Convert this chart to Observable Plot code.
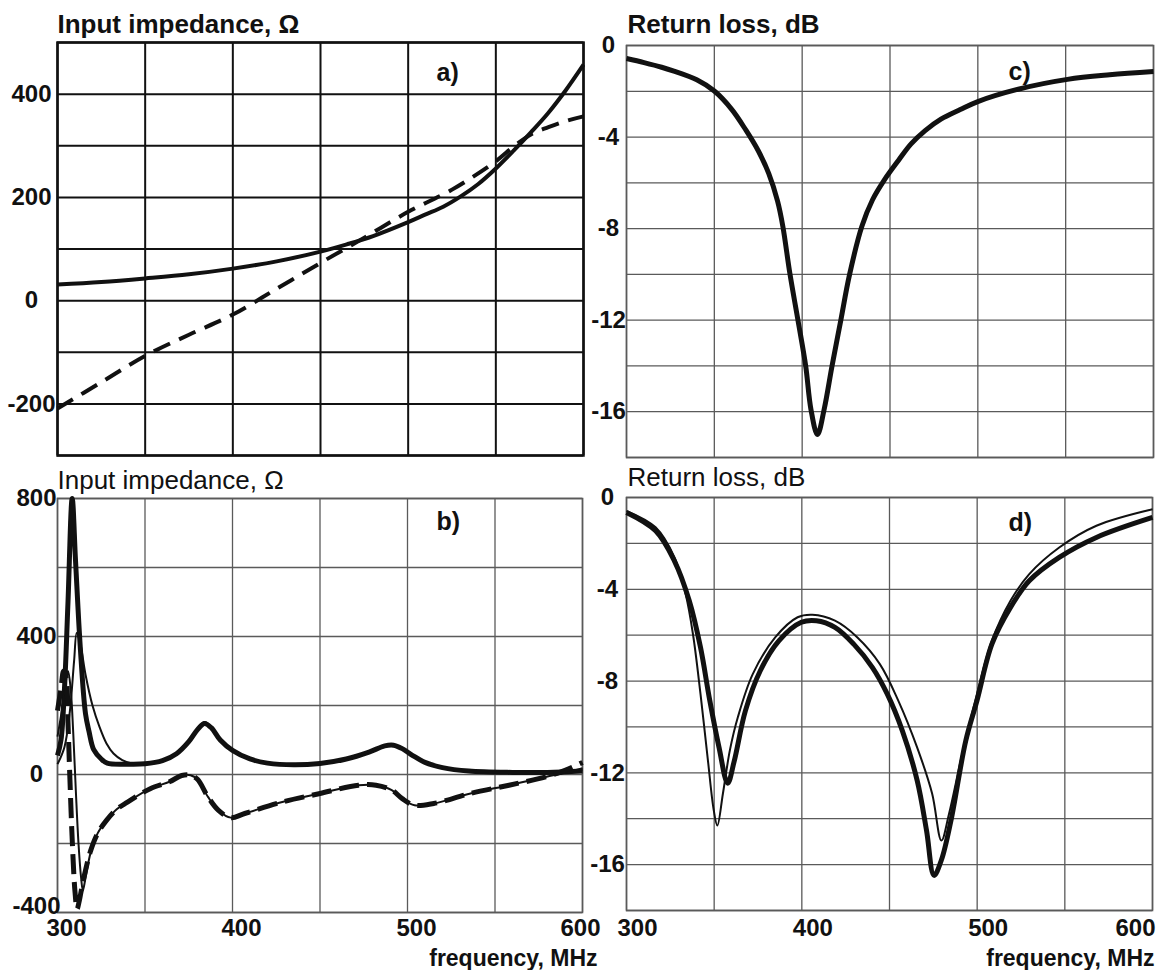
<!DOCTYPE html>
<html>
<head>
<meta charset="utf-8">
<script src="https://cdn.jsdelivr.net/npm/d3@7"></script>
<script src="https://cdn.jsdelivr.net/npm/@observablehq/plot@0.6"></script>
<style>
  html, body { margin: 0; padding: 0; background: #fff; }
  #chart { position: relative; width: 1165px; height: 970px; background: #fff; overflow: hidden; }
  #chart svg { position: absolute; background: transparent; overflow: visible; max-width: none; }
</style>
</head>
<body>
<div id="chart"></div>
<script>
// ---------- axes / ticks ----------
const freqGrid = [300, 350, 400, 450, 500, 550, 600];
const freqLabels = [300, 400, 500, 600];
const impAGrid = [-300, -200, -100, 0, 100, 200, 300, 400, 500];
const impALabels = [400, 200, 0, -200];
const impBGrid = [-400, -200, 0, 200, 400, 600, 800];
const impBLabels = [800, 400, 0];
const impBLabelsLow = [-400];
const rlGrid = [-18, -16, -14, -12, -10, -8, -6, -4, -2, 0];
const rlLabels = [0, -4, -8, -12, -16];

// ---------- panel a) input impedance (single antenna) ----------
const aRe = [[300,31],[325,36],[350,43],[375,51],[400,62],[425,76],[450,95],[465,109],[480,125],[500,152],[510,167],[520,182],[530,202],[540,226],[550,256],[560,290],[570,326],[580,364],[590,408],[600,457]];
const aIm = [[300,-209],[325,-158],[350,-107],[375,-66],[400,-27],[425,23],[450,73],[475,122],[500,172],[525,215],[550,270],[560,298],[570,322],[580,336],[590,348],[600,357]];

// ---------- panel c) return loss (single antenna) ----------
const cRL = [[300,-0.57],[310,-0.75],[320,-0.95],[327,-1.12],[340,-1.5],[350,-1.99],[360,-2.8],[368,-3.7],[375,-4.6],[381,-5.6],[386,-6.8],[389,-7.9],[393,-9.96],[397.6,-12],[402,-14],[405,-15.9],[408.7,-17.0],[412.5,-15.9],[417,-14],[422,-12],[427,-10],[434,-7.9],[440,-6.75],[447,-5.85],[455,-5.0],[462,-4.3],[470,-3.72],[479,-3.22],[490,-2.8],[500,-2.45],[523,-1.91],[551,-1.48],[575,-1.28],[600,-1.14]];

// ---------- panel b) input impedance (two resonances) ----------
const bReMeas = [[300,55],[302,100],[304,250],[306,500],[308.4,800],[310.3,620],[313,370],[316,176],[318,125],[320.7,72],[325,45],[328.4,33],[340,30],[350,31],[360,40],[368,60],[375,95],[380,130],[384,148],[388,135],[393,100],[400,70],[410,45],[420,33],[435,28],[450,32],[465,45],[478,65],[487,83],[492,85],[497,75],[503,55],[510,35],[520,20],[535,10],[560,6],[580,6],[600,10]];
const bReSim = [[300,30],[304,80],[307,180],[309.5,330],[311,410],[313,380],[316,290],[320,200],[324,138],[328,90],[332,61],[337,42],[342,33],[350,31],[360,41],[368,62],[375,98],[380,133],[384,152],[388,137],[393,100],[400,69],[410,44],[420,32],[435,28],[450,32],[465,46],[478,66],[487,84],[492,86],[497,75],[503,54],[510,34],[520,19],[535,10],[560,6],[580,6],[600,12]];
const bImMeas = [[300,185],[302,250],[303.5,300],[305,280],[306,150],[307,0],[308.5,-200],[310,-340],[311.2,-390],[312.5,-365],[314,-325],[316,-278],[319,-220],[323,-170],[328,-133],[334,-100],[340,-80],[353,-41],[364,-21],[371,-3],[376,-2],[380,-14],[386,-65],[392,-104],[399,-125],[407,-113],[429,-79],[450,-55],[472,-31],[482,-31],[491,-45],[497,-70],[504,-89],[515,-84],[536,-55],[558,-31],[579,-7],[590,12],[600,35]];
const bImSim = [[300,110],[302,170],[304,240],[306,300],[307.5,250],[309,120],[310.5,-50],[312,-200],[313.5,-300],[314.5,-336],[316,-300],[319,-225],[323,-170],[328,-133],[334,-100],[340,-80],[353,-41],[364,-21],[371,-3],[376,-2],[380,-14],[386,-65],[392,-104],[399,-125],[407,-113],[429,-79],[450,-55],[472,-31],[482,-31],[491,-45],[497,-70],[504,-89],[515,-84],[536,-55],[558,-31],[579,-7],[590,5],[600,18]];

// ---------- panel d) return loss (two resonances) ----------
const dRLMeas = [[300,-0.65],[316.6,-1.45],[327.3,-2.76],[335.8,-4.5],[342.2,-6.53],[347.5,-8.85],[352.8,-10.9],[357.7,-12.45],[361.4,-11.5],[367.8,-9.3],[376.3,-7.55],[387,-6.24],[399.7,-5.44],[408.3,-5.37],[418.9,-5.66],[429.6,-6.39],[440.2,-7.4],[448.7,-8.56],[457.3,-10.16],[465.8,-12.34],[471.1,-14.5],[475.4,-16.47],[479.6,-15.8],[485,-14.1],[493.5,-10.6],[499.9,-8.85],[508.4,-6.39],[519,-4.79],[529.7,-3.63],[546.8,-2.61],[568,-1.74],[600,-0.87]];
const dRLSim = [[300,-0.58],[316.6,-1.3],[327.3,-2.6],[333.7,-4.2],[337.9,-5.95],[342.2,-8.56],[346.5,-11.5],[349.7,-13.6],[351.8,-14.3],[355,-12.9],[359,-11],[363.5,-9.58],[372,-7.7],[384.8,-6.1],[397.6,-5.22],[406,-5.11],[418.9,-5.37],[431.7,-6.1],[444.5,-7.26],[455,-8.85],[465.8,-10.9],[474.3,-12.9],[479.6,-14.95],[483.9,-13.8],[491.4,-11.2],[499.9,-8.56],[508.4,-6.24],[519,-4.5],[529.7,-3.34],[546.8,-2.18],[568,-1.23],[600,-0.51]];

// ---------- drawing ----------
const FONT = "Liberation Sans, Arial, Helvetica, sans-serif";
const INK = "#111";
const fx = d => d[0], fy = d => d[1];
const root = document.getElementById("chart");

function yAxis(values, pad, dy) {
  return Plot.axisY(values, {anchor: "left", tickSize: 0, tickPadding: pad, textAnchor: "middle", dy,
    tickFormat: d => String(d), fontSize: 24, fontWeight: "bold", fill: INK, label: null});
}

function panel(o) {
  const marks = [
    Plot.gridX(freqGrid, {stroke: o.grid, strokeOpacity: 1, strokeWidth: o.gridW}),
    Plot.gridY(o.yGrid, {stroke: o.grid, strokeOpacity: 1, strokeWidth: o.gridW}),
    Plot.frame({stroke: o.grid, strokeWidth: o.frameW}),
    yAxis(o.yLabels, o.yPad, 0),
    ...(o.yLabelsLow ? [yAxis(o.yLabelsLow, o.yPad, -6)] : []),
    ...o.lines.map(l => Plot.line(l.data, {x: fx, y: fy, stroke: INK, strokeWidth: l.w,
      strokeDasharray: l.dash, curve: "catmull-rom", strokeLinecap: "butt", strokeLinejoin: "round"})),
    Plot.text([o.title], {text: d => d, frameAnchor: "top-left", textAnchor: "start", lineAnchor: "bottom",
      dx: o.titleDx, dy: o.titleDy, fontSize: 26, fontWeight: o.titleWeight, fill: INK}),
    Plot.text([o.tag], {text: d => d, frameAnchor: "top-left", textAnchor: "start", lineAnchor: "bottom",
      dx: o.tagDx, dy: o.tagDy, fontSize: 25, fontWeight: "bold", fill: INK})
  ];
  if (o.xAxis) {
    marks.push(
      Plot.axisX(freqLabels.slice(0, 3), {anchor: "bottom", tickSize: 0, tickPadding: o.xPad, dx: o.xDx,
        tickFormat: d => String(d), fontSize: 24, fontWeight: "bold", fill: INK, label: null}),
      Plot.axisX(freqLabels.slice(3), {anchor: "bottom", tickSize: 0, tickPadding: o.xPad, dx: o.xDxLast,
        tickFormat: d => String(d), fontSize: 24, fontWeight: "bold", fill: INK, label: null}),
      Plot.text(["frequency, MHz"], {text: d => d, frameAnchor: "bottom-right", textAnchor: "end", lineAnchor: "bottom",
        dx: o.fDx, dy: o.fDy, fontSize: 23, fontWeight: "bold", fill: INK})
    );
  }
  const svg = Plot.plot({
    width: o.width, height: o.height,
    marginLeft: o.ml, marginRight: o.mr, marginTop: o.mt, marginBottom: o.mb,
    x: {domain: [300, 600], axis: null},
    y: {domain: o.yDomain, axis: null},
    style: {fontFamily: FONT, background: "transparent", overflow: "visible"},
    marks
  });
  svg.style.left = o.left + "px";
  svg.style.top = o.top + "px";
  root.appendChild(svg);
}

// a)
panel({left: 0, top: 0, width: 600, height: 465, ml: 57, mr: 17, mt: 42, mb: 10,
  yDomain: [-300, 500], yGrid: impAGrid, yLabels: impALabels, yPad: 26,
  grid: "#111", gridW: 2, frameW: 2.5,
  lines: [{data: aRe, w: 4}, {data: aIm, w: 4, dash: "18,10"}],
  title: "Input impedance, Ω", titleWeight: "bold", titleDx: 0, titleDy: -10,
  tag: "a)", tagDx: 379, tagDy: 38, xAxis: false});

// c)
panel({left: 570, top: 0, width: 595, height: 465, ml: 56, mr: 12, mt: 45, mb: 8,
  yDomain: [-18, 0], yGrid: rlGrid, yLabels: rlLabels, yPad: 18,
  grid: "#5a5a5a", gridW: 1.3, frameW: 1.6,
  lines: [{data: cRL, w: 5}],
  title: "Return loss, dB", titleWeight: "bold", titleDx: 1, titleDy: -13,
  tag: "c)", tagDx: 382, tagDy: 34, xAxis: false});

// b)
panel({left: 0, top: 465, width: 600, height: 505, ml: 57, mr: 18, mt: 33, mb: 58,
  yDomain: [-400, 800], yGrid: impBGrid, yLabels: impBLabels, yLabelsLow: impBLabelsLow, yPad: 21,
  grid: "#5a5a5a", gridW: 1.3, frameW: 1.6,
  lines: [{data: bReMeas, w: 5}, {data: bReSim, w: 2}, {data: bImSim, w: 2}, {data: bImMeas, w: 5, dash: "20,8"}],
  title: "Input impedance, Ω", titleWeight: "normal", titleDx: 0, titleDy: -10,
  tag: "b)", tagDx: 379, tagDy: 31, xAxis: true, xPad: 6, xDx: 9, xDxLast: -2, fDx: 15, fDy: 53});

// d)
panel({left: 570, top: 465, width: 595, height: 505, ml: 56, mr: 13, mt: 32, mb: 60,
  yDomain: [-18, 0], yGrid: rlGrid, yLabels: rlLabels, yPad: 19,
  grid: "#5a5a5a", gridW: 1.3, frameW: 1.6,
  lines: [{data: dRLSim, w: 2}, {data: dRLMeas, w: 5}],
  title: "Return loss, dB", titleWeight: "normal", titleDx: 1, titleDy: -12,
  tag: "d)", tagDx: 382, tagDy: 33, xAxis: true, xPad: 8, xDx: 11, xDxLast: -17, fDx: 2, fDy: 55});
</script>
</body>
</html>
